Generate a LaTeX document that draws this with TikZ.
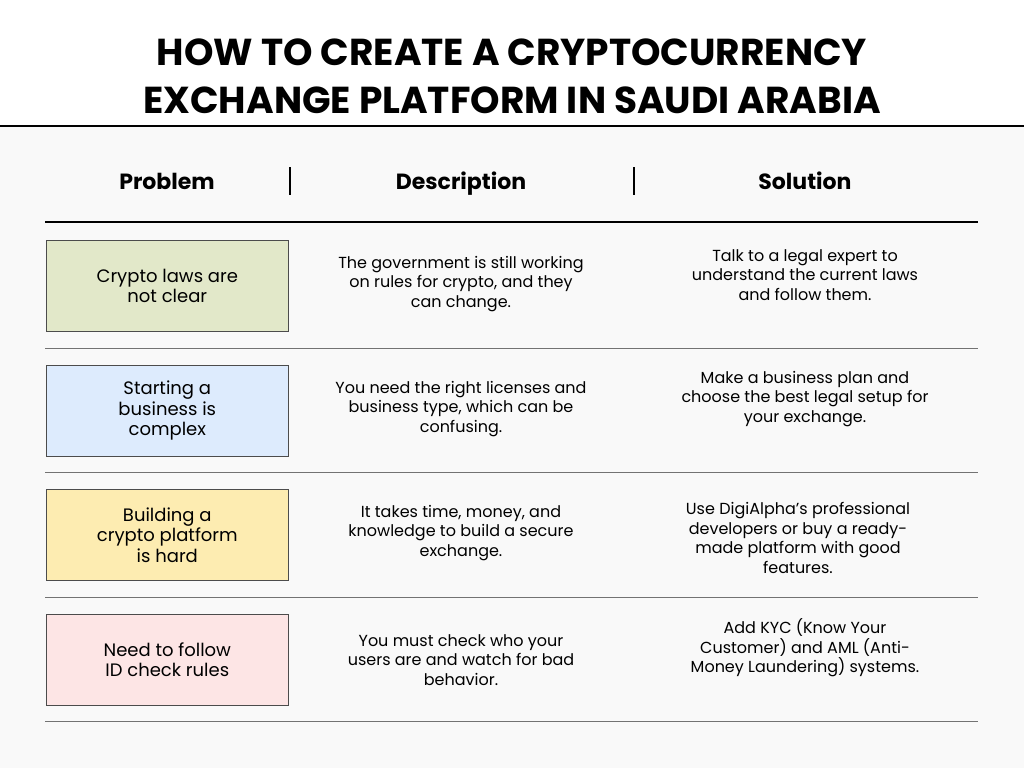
\documentclass[tikz,border=0pt]{standalone}
\usepackage{fontspec}
\setmainfont{Poppins}
\begin{document}
\begin{tikzpicture}[x=1pt,y=-1pt,
 title/.style={font=\fontsize{37.5}{48}\selectfont\bfseries},
 head/.style={font=\fontsize{22}{24}\selectfont\bfseries, anchor=base},
 txt/.style={font=\fontsize{16}{19.5}\selectfont, align=center},
 pbox/.style={draw=black!70, line width=0.6pt, minimum width=242pt, minimum height=91pt, anchor=north west, align=center, font=\fontsize{18}{20.5}\selectfont}]
\useasboundingbox (0,0) rectangle (1024,768);
\fill[white] (0,0) rectangle (1024,126);
\fill[black!2.5] (0,126) rectangle (1024,768);
\draw[line width=1.2pt] (0,126) -- (1024,126);
\node[title, align=center] (t) at (512,76) {HOW TO CREATE A CRYPTOCURRENCY\\EXCHANGE PLATFORM IN SAUDI ARABIA};
\node[head] (hp) at (167,189) {Problem};
\node[head] (hd) at (461,189) {Description};
\node[head] (hs) at (805,189) {Solution};
\draw[line width=1.2pt] (290,167) -- (290,195) (634,167) -- (634,195);
\draw[line width=1.2pt] (45,222) -- (978,222);
\foreach \y in {348,472,597,721} \draw[black!55,line width=0.7pt] (45,\y) -- (978,\y);
\node[pbox, fill={rgb,255:red,226;green,232;blue,201}] (p1) at (46,240) {Crypto laws are\\not clear};
\node[pbox, fill={rgb,255:red,221;green,235;blue,253}] (p2) at (46,365) {Starting a\\business is\\complex};
\node[pbox, fill={rgb,255:red,253;green,236;blue,177}] (p3) at (46,489) {Building a\\crypto platform\\is hard};
\node[pbox, fill={rgb,255:red,253;green,229;blue,229}] (p4) at (46,614) {Need to follow\\ID check rules};
\node[txt] (d1) at (461,284) {The government is still working\\on rules for crypto, and they\\can change.};
\node[txt] (d2) at (461,409) {You need the right licenses and\\business type, which can be\\confusing.};
\node[txt] (d3) at (461,533) {It takes time, money, and\\knowledge to build a secure\\exchange.};
\node[txt] (d4) at (461,660) {You must check who your\\users are and watch for bad\\behavior.};
\node[txt] (s1) at (805,275) {Talk to a legal expert to\\understand the current laws\\and follow them.};
\node[txt] (s2) at (805,399) {Make a business plan and\\choose the best legal setup for\\your exchange.};
\node[txt] (s3) at (798,538) {Use DigiAlpha’s professional\\developers or buy a ready-\\made platform with good\\features.};
\node[txt] (s4) at (805,648) {Add KYC (Know Your\\Customer) and AML (Anti-\\Money Laundering) systems.};
\end{tikzpicture}
\end{document}
